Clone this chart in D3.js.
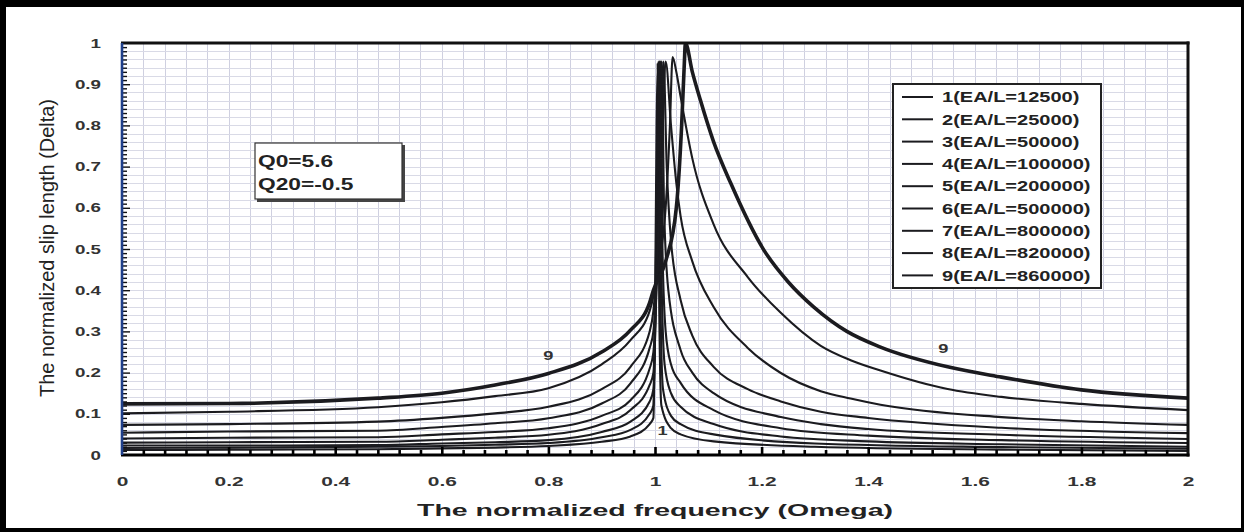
<!DOCTYPE html>
<html><head><meta charset="utf-8">
<script src="https://cdn.jsdelivr.net/npm/d3@7"></script>
<style>html,body{margin:0;padding:0;background:#fff;}svg{display:block;}text{font-family:"Liberation Sans",Arial,sans-serif;}</style>
</head><body><svg id="c" width="1244" height="532"></svg>
<script>
const xTickValues = [0,0.2,0.4,0.6,0.8,1,1.2,1.4,1.6,1.8,2];
const xTickLabels = ["0","0.2","0.4","0.6","0.8","1","1.2","1.4","1.6","1.8","2"];
const yTickValues = [0,0.1,0.2,0.3,0.4,0.5,0.6,0.7,0.8,0.9,1];
const yTickLabels = ["0","0.1","0.2","0.3","0.4","0.5","0.6","0.7","0.8","0.9","1"];
const seriesLabels = ["1(EA/L=12500)","2(EA/L=25000)","3(EA/L=50000)","4(EA/L=100000)","5(EA/L=200000)","6(EA/L=500000)","7(EA/L=800000)","8(EA/L=820000)","9(EA/L=860000)"];
const xTitle = "The normalized frequency (Omega)";
const yTitle = "The normalized slip length (Delta)";
const noteLines = ["Q0=5.6","Q20=-0.5"];

const series1 = [[0,0.012],[0.2,0.013],[0.48,0.014],[0.6,0.016],[0.7,0.018],[0.8,0.022],[0.9,0.032],[0.954,0.045],[0.99,0.075],[0.997,0.09],[1.001,0.5],[1.003,0.8],[1.005,0.95],[1.008,0.35],[1.012,0.12],[1.03,0.065],[1.048,0.05],[1.11,0.033],[1.3,0.02],[1.65,0.013],[2,0.01]];
const series2 = [[0,0.017],[0.2,0.018],[0.48,0.020],[0.6,0.022],[0.7,0.025],[0.8,0.029],[0.9,0.043],[0.954,0.061],[0.99,0.10],[0.997,0.12],[1.002,0.5],[1.005,0.8],[1.007,0.955],[1.01,0.4],[1.015,0.16],[1.03,0.095],[1.048,0.075],[1.11,0.05],[1.3,0.028],[1.65,0.019],[2,0.015]];
const series3 = [[0,0.023],[0.2,0.023],[0.48,0.024],[0.6,0.028],[0.7,0.031],[0.8,0.036],[0.9,0.056],[0.954,0.081],[0.99,0.13],[0.997,0.16],[1.003,0.5],[1.006,0.8],[1.009,0.955],[1.012,0.45],[1.018,0.22],[1.03,0.15],[1.048,0.117],[1.11,0.075],[1.236,0.045],[1.4,0.033],[1.65,0.026],[2,0.02]];
const series4 = [[0,0.030],[0.2,0.031],[0.48,0.032],[0.6,0.037],[0.7,0.042],[0.8,0.049],[0.9,0.075],[0.954,0.109],[0.99,0.17],[0.997,0.20],[1.004,0.5],[1.008,0.8],[1.011,0.955],[1.014,0.5],[1.02,0.30],[1.03,0.22],[1.048,0.175],[1.11,0.109],[1.236,0.065],[1.4,0.047],[1.65,0.036],[2,0.029]];
const series5 = [[0,0.040],[0.2,0.042],[0.48,0.043],[0.6,0.050],[0.7,0.056],[0.8,0.065],[0.9,0.095],[0.954,0.133],[0.99,0.21],[0.997,0.25],[1.005,0.5],[1.01,0.8],[1.013,0.955],[1.017,0.6],[1.025,0.40],[1.048,0.255],[1.07,0.2],[1.11,0.15],[1.236,0.092],[1.311,0.075],[1.4,0.063],[1.65,0.049],[2,0.039]];
const series6 = [[0,0.054],[0.2,0.057],[0.48,0.059],[0.6,0.068],[0.7,0.077],[0.8,0.089],[0.9,0.125],[0.954,0.174],[0.99,0.26],[0.997,0.30],[1.005,0.5],[1.012,0.8],[1.016,0.955],[1.022,0.70],[1.03,0.52],[1.048,0.376],[1.07,0.29],[1.11,0.214],[1.174,0.16],[1.236,0.13],[1.311,0.105],[1.4,0.09],[1.65,0.066],[2,0.053]];
const series7 = [[0,0.073],[0.2,0.075],[0.48,0.081],[0.6,0.090],[0.7,0.101],[0.8,0.117],[0.9,0.16],[0.954,0.214],[0.99,0.30],[0.997,0.35],[1.003,0.45],[1.012,0.7],[1.02,0.955],[1.03,0.80],[1.04,0.66],[1.048,0.58],[1.07,0.47],[1.11,0.359],[1.174,0.26],[1.236,0.199],[1.311,0.155],[1.367,0.137],[1.423,0.122],[1.65,0.092],[1.8,0.082],[2,0.073]];
const series8 = [[0,0.101],[0.2,0.105],[0.48,0.116],[0.6,0.128],[0.7,0.143],[0.8,0.162],[0.9,0.22],[0.954,0.279],[0.99,0.35],[0.997,0.385],[1.005,0.45],[1.02,0.6],[1.028,0.8],[1.033,0.966],[1.04,0.93],[1.048,0.87],[1.07,0.72],[1.11,0.56],[1.174,0.432],[1.236,0.345],[1.311,0.265],[1.367,0.23],[1.423,0.205],[1.549,0.16],[1.65,0.141],[1.8,0.124],[2,0.109]];
const series9 = [[0,0.124],[0.2,0.125],[0.48,0.138],[0.6,0.150],[0.7,0.170],[0.8,0.198],[0.9,0.25],[0.954,0.303],[0.99,0.37],[0.997,0.40],[1.02,0.47],[1.04,0.60],[1.05,0.80],[1.055,0.95],[1.057,1.0],[1.07,0.93],[1.085,0.862],[1.11,0.76],[1.142,0.66],[1.204,0.498],[1.25,0.42],[1.298,0.359],[1.36,0.30],[1.423,0.262],[1.549,0.214],[1.65,0.189],[1.8,0.158],[2,0.138]];
const allSeries = [series1,series2,series3,series4,series5,series6,series7,series8,series9];
const curveTagText = ["9","9","1"];
const curveTagOmega = [0.8,1.541,1.014];
const curveTagDelta = [0.243,0.26,0.061];

const svg = d3.select("#c");
const W = 1244, H = 532;
const x = d3.scaleLinear().domain([0,2]).range([122,1188]);
const y = d3.scaleLinear().domain([0,1]).range([455,43]);

function stretch(sel, f){
  sel.each(function(){
    const L = this.getComputedTextLength();
    this.setAttribute("textLength", L*f);
    this.setAttribute("lengthAdjust","spacingAndGlyphs");
  });
}

svg.append("rect").attr("width",W).attr("height",H).attr("fill","#fff");

// grid
const grid = svg.append("g").attr("shape-rendering","crispEdges");
grid.selectAll(".gv").data(d3.range(0,2.0001,0.04)).join("line")
  .attr("x1",d=>Math.round(x(d))+0.5).attr("x2",d=>Math.round(x(d))+0.5)
  .attr("y1",y(1)).attr("y2",y(0)).attr("stroke","#cfd0e0").attr("stroke-width",1);
grid.selectAll(".gh").data(d3.range(0,1.0001,0.02)).join("line")
  .attr("y1",d=>Math.round(y(d))+0.5).attr("y2",d=>Math.round(y(d))+0.5)
  .attr("x1",x(0)).attr("x2",x(2)).attr("stroke","#d9dae6").attr("stroke-width",1);

// curves
svg.append("clipPath").attr("id","pc").append("rect")
  .attr("x",x(0)).attr("y",y(1)).attr("width",x(2)-x(0)).attr("height",y(0)-y(1));
const line = d3.line().x(d=>x(d[0])).y(d=>y(d[1])).curve(d3.curveMonotoneX);
svg.append("g").attr("clip-path","url(#pc)").selectAll("path").data(allSeries).join("path")
  .attr("d",line).attr("fill","none").attr("stroke","#1b1b1f")
  .attr("stroke-width",(d,i)=> i===8 ? 3.6 : 2.1).attr("stroke-linejoin","round");

// minor ticks x
const xt = svg.append("g").attr("transform",`translate(0,${y(0)})`)
  .call(d3.axisBottom(x).tickValues(d3.range(0.04,1.97,0.04)).tickSize(-5).tickFormat(""));
xt.select(".domain").remove();
xt.selectAll("line").attr("stroke","#000").attr("stroke-width",2.6)
  .attr("y2",d=> (Math.abs(d/0.2-Math.round(d/0.2))<1e-6) ? -8 : -5);
// minor ticks y
const yt = svg.append("g").attr("transform",`translate(${x(0)},0)`)
  .call(d3.axisLeft(y).tickValues(d3.range(0.01,1,0.01)).tickSize(-5).tickFormat(""));
yt.select(".domain").remove();
yt.selectAll("line").attr("stroke","#111").attr("stroke-width",1.4)
  .attr("x2",d=> (Math.abs(d*10-Math.round(d*10))<1e-6) ? 8 : 5);

// frame of plot
svg.append("line").attr("x1",x(0)-1).attr("x2",x(2)+1.5).attr("y1",y(1)).attr("y2",y(1)).attr("stroke","#111").attr("stroke-width",3);
svg.append("line").attr("x1",x(2)).attr("x2",x(2)).attr("y1",y(1)-1.5).attr("y2",y(0)+1.5).attr("stroke","#111").attr("stroke-width",3);
svg.append("line").attr("x1",x(0)-1).attr("x2",x(2)+1.5).attr("y1",y(0)).attr("y2",y(0)).attr("stroke","#000").attr("stroke-width",3);
svg.append("line").attr("x1",x(0)).attr("x2",x(0)).attr("y1",y(1)).attr("y2",y(0)).attr("stroke","#1f3f8a").attr("stroke-width",2.6);

// axis labels
const xa = svg.append("g").attr("transform",`translate(0,${y(0)})`)
  .call(d3.axisBottom(x).tickValues(xTickValues).tickFormat((d,i)=>xTickLabels[i]).tickSize(0).tickPadding(21));
xa.select(".domain").remove();
xa.selectAll("text").attr("font-size",13.5).attr("font-weight","bold").attr("fill","#333")
  .attr("font-family","Liberation Sans, Arial, sans-serif").call(stretch,1.55);
const ya = svg.append("g").attr("transform",`translate(${x(0)},0)`)
  .call(d3.axisLeft(y).tickValues(yTickValues).tickFormat((d,i)=>yTickLabels[i]).tickSize(0).tickPadding(21));
ya.select(".domain").remove();
ya.selectAll("text").attr("font-size",12.5).attr("font-weight","bold").attr("fill","#333")
  .attr("font-family","Liberation Sans, Arial, sans-serif").call(stretch,1.5);

// titles
svg.append("text").attr("x",655).attr("y",516).attr("text-anchor","middle")
  .attr("font-size",17).attr("font-weight","bold").attr("fill","#222")
  .attr("textLength",476).attr("lengthAdjust","spacingAndGlyphs").text(xTitle);
svg.append("text").attr("transform","translate(47,248) rotate(-90) scale(1,1.3)")
  .attr("text-anchor","middle").attr("dy","0.36em")
  .attr("font-size",16).attr("fill","#222")
  .attr("textLength",298).attr("lengthAdjust","spacingAndGlyphs").text(yTitle);

// note box
svg.append("rect").attr("x",257).attr("y",145).attr("width",148).attr("height",57).attr("fill","#444");
svg.append("rect").attr("x",255).attr("y",143).attr("width",147).attr("height",56).attr("fill","#fff").attr("stroke","#333").attr("stroke-width",1.2);
svg.selectAll(".note").data(noteLines).join("text")
  .attr("x",258).attr("y",(d,i)=>167+i*23).attr("font-size",16).attr("font-weight","bold").attr("fill","#222")
  .text(d=>d).call(stretch,1.42);

// legend
const lg = svg.append("g");
lg.append("rect").attr("x",893).attr("y",84).attr("width",208).attr("height",204)
  .attr("fill","#fff").attr("stroke","#222").attr("stroke-width",2);
const rows = lg.selectAll("g.r").data(seriesLabels).join("g").attr("transform",(d,i)=>`translate(0,${97+i*22.3})`);
rows.append("line").attr("x1",902).attr("x2",933).attr("stroke","#1b1b1f").attr("stroke-width",2);
rows.append("text").attr("x",942).attr("dy","0.36em").attr("font-size",14.5).attr("font-weight","bold")
  .attr("fill","#222").text(d=>d).call(stretch,1.38);

// curve tags
svg.selectAll(".tag").data(curveTagText).join("text")
  .attr("x",(d,i)=>x(curveTagOmega[i])).attr("y",(d,i)=>y(curveTagDelta[i])).attr("dy","0.36em")
  .attr("text-anchor","middle").attr("font-size",13).attr("font-weight","bold").attr("fill","#333")
  .text(d=>d).call(stretch,1.4);

// outer black frame
svg.append("rect").attr("x",0).attr("y",0).attr("width",W).attr("height",7).attr("fill","#000");
svg.append("rect").attr("x",0).attr("y",0).attr("width",6).attr("height",H).attr("fill","#000");
svg.append("rect").attr("x",0).attr("y",528).attr("width",W).attr("height",4).attr("fill","#000");
svg.append("rect").attr("x",1241).attr("y",0).attr("width",3).attr("height",H).attr("fill","#000");
</script></body></html>
